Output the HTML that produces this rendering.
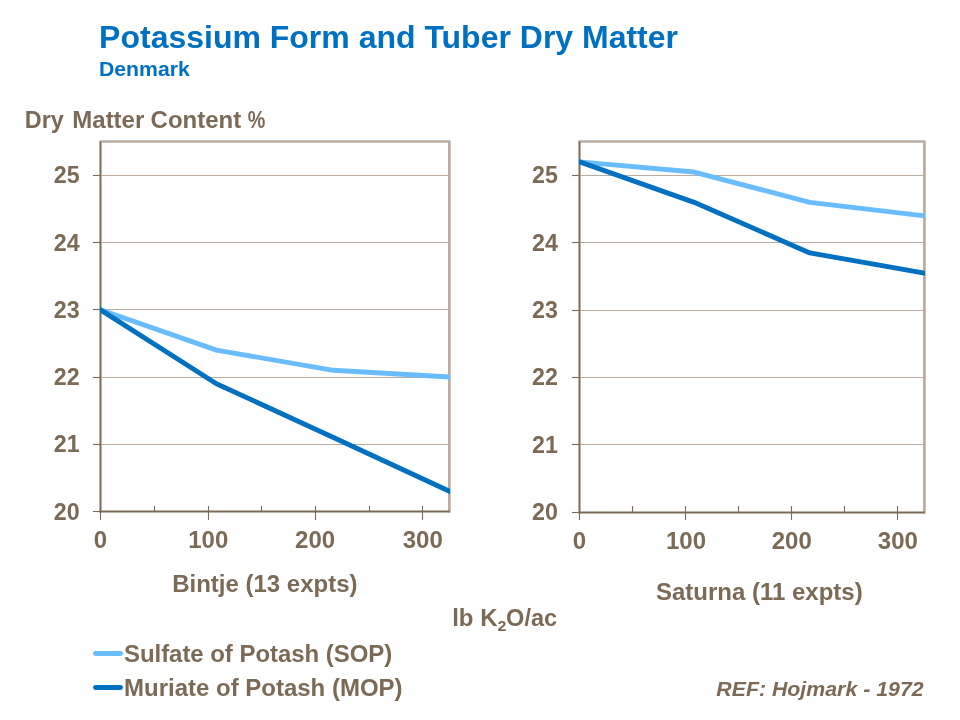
<!DOCTYPE html>
<html>
<head>
<meta charset="utf-8">
<title>Potassium Form and Tuber Dry Matter</title>
<style>
  html, body { margin: 0; padding: 0; background: #ffffff; }
  body { width: 960px; height: 720px; overflow: hidden; position: relative; }
  svg { position: absolute; left: 0; top: 0; display: block; will-change: transform; }
  text { font-family: "Liberation Sans", sans-serif; font-weight: bold; }
  .br { fill: #7b6a55; font-size: 24px; }
  .bl { fill: #0070c0; }
</style>
</head>
<body>
<svg width="960" height="720" viewBox="0 0 960 720">
  <rect x="0" y="0" width="960" height="720" fill="#ffffff"/>

  <!-- Titles -->
  <text class="bl" transform="translate(99.1,48.1) scale(1,0.975)" font-size="32">Potassium Form and Tuber Dry Matter</text>
  <text class="bl" transform="translate(98.9,75.6) scale(1,0.93)" x="0" y="0" font-size="21.25">Denmark</text>

  <!-- Y axis title -->
  <text class="br" transform="translate(24.8,127.9) scale(1,0.96)" textLength="39" lengthAdjust="spacingAndGlyphs">Dry</text>
  <text class="br" transform="translate(72.3,127.9) scale(1,0.96)" >Matter</text>
  <text class="br" transform="translate(150.6,127.9) scale(1,0.96)" >Content</text>
  <text class="br" transform="translate(247.8,127.9) scale(1,0.96)" textLength="17.6" lengthAdjust="spacingAndGlyphs">%</text>

  <!-- LEFT PLOT -->
  <g id="p1">
    <g stroke="#b9ada2" stroke-width="1">
      <line x1="101.5" x2="449.4" y1="175.5" y2="175.5"/>
      <line x1="101.5" x2="449.4" y1="242.5" y2="242.5"/>
      <line x1="101.5" x2="449.4" y1="309.5" y2="309.5"/>
      <line x1="101.5" x2="449.4" y1="377.5" y2="377.5"/>
      <line x1="101.5" x2="449.4" y1="444.5" y2="444.5"/>
    </g>
    <polyline points="100.5,141.5 449.4,141.5 449.4,511.45" fill="none" stroke="#b9ada2" stroke-width="2.7" stroke-linejoin="round" stroke-linecap="round"/>
    <g stroke="#7b6a55" stroke-width="1.1">
      <line x1="92.9" x2="100.0" y1="175.5" y2="175.5"/>
      <line x1="92.9" x2="100.0" y1="242.5" y2="242.5"/>
      <line x1="92.9" x2="100.0" y1="309.5" y2="309.5"/>
      <line x1="92.9" x2="100.0" y1="377.5" y2="377.5"/>
      <line x1="92.9" x2="100.0" y1="444.5" y2="444.5"/>
      <line x1="92.9" x2="100.0" y1="511.5" y2="511.5"/>
      <line x1="100.5" x2="100.5" y1="511.45" y2="520"/>
      <line x1="154.5" x2="154.5" y1="506" y2="511.45"/>
      <line x1="208.5" x2="208.5" y1="506" y2="520"/>
      <line x1="261.5" x2="261.5" y1="506" y2="511.45"/>
      <line x1="315.5" x2="315.5" y1="506" y2="520"/>
      <line x1="369.5" x2="369.5" y1="506" y2="511.45"/>
      <line x1="422.5" x2="422.5" y1="506" y2="520"/>
    </g>
    <line x1="100.5" x2="100.5" y1="141.70" y2="512.45" stroke="#7b6a55" stroke-width="2"/>
    <line x1="99.5" x2="449.6" y1="511.45" y2="511.45" stroke="#7b6a55" stroke-width="2"/>
    <clipPath id="cp1"><rect x="100.0" y="143" width="350.00" height="367.45"/></clipPath>
    <g clip-path="url(#cp1)" fill="none" stroke-width="4.9" stroke-linejoin="round">
      <polyline stroke="#69bdff" points="94.50,307.73 100.50,309.82 216.44,350.15 333.46,370.31 449.40,377.03 455.40,377.38"/>
      <polyline stroke="#0070c0" points="94.50,305.99 100.50,309.82 216.44,383.75 333.46,437.52 449.40,491.29 455.40,494.07"/>
    </g>
  </g>

  <!-- RIGHT PLOT -->
  <g id="p2">
    <g stroke="#b9ada2" stroke-width="1">
      <line x1="580.5" x2="924.4" y1="175.5" y2="175.5"/>
      <line x1="580.5" x2="924.4" y1="242.5" y2="242.5"/>
      <line x1="580.5" x2="924.4" y1="310.5" y2="310.5"/>
      <line x1="580.5" x2="924.4" y1="377.5" y2="377.5"/>
      <line x1="580.5" x2="924.4" y1="444.5" y2="444.5"/>
    </g>
    <polyline points="579.5,141.5 924.4,141.5 924.4,512.4" fill="none" stroke="#b9ada2" stroke-width="2.7" stroke-linejoin="round" stroke-linecap="round"/>
    <g stroke="#7b6a55" stroke-width="1.1">
      <line x1="571.9" x2="579.0" y1="175.5" y2="175.5"/>
      <line x1="571.9" x2="579.0" y1="242.5" y2="242.5"/>
      <line x1="571.9" x2="579.0" y1="310.5" y2="310.5"/>
      <line x1="571.9" x2="579.0" y1="377.5" y2="377.5"/>
      <line x1="571.9" x2="579.0" y1="444.5" y2="444.5"/>
      <line x1="571.9" x2="579.0" y1="512.5" y2="512.5"/>
      <line x1="579.5" x2="579.5" y1="512.4" y2="520"/>
      <line x1="632.5" x2="632.5" y1="506" y2="512.4"/>
      <line x1="685.5" x2="685.5" y1="506" y2="520"/>
      <line x1="738.5" x2="738.5" y1="506" y2="512.4"/>
      <line x1="791.5" x2="791.5" y1="506" y2="520"/>
      <line x1="844.5" x2="844.5" y1="506" y2="512.4"/>
      <line x1="897.5" x2="897.5" y1="506" y2="520"/>
    </g>
    <line x1="579.5" x2="579.5" y1="141.70" y2="513.40" stroke="#7b6a55" stroke-width="2"/>
    <line x1="578.5" x2="924.6" y1="512.4" y2="512.4" stroke="#7b6a55" stroke-width="2"/>
    <clipPath id="cp2"><rect x="579.0" y="143" width="346.00" height="368.40"/></clipPath>
    <g clip-path="url(#cp2)" fill="none" stroke-width="4.9" stroke-linejoin="round">
      <polyline stroke="#69bdff" points="573.50,161.39 579.50,161.92 694.11,172.03 809.79,202.36 924.40,215.84 930.40,216.55"/>
      <polyline stroke="#0070c0" points="573.50,159.80 579.50,161.92 694.11,202.36 809.79,252.91 924.40,273.13 930.40,274.19"/>
    </g>
  </g>

  <!-- Y tick labels -->
  <g class="br" text-anchor="end">
    <text class="br" transform="translate(79.7,183.1) scale(1,0.96)" textLength="25.9" lengthAdjust="spacingAndGlyphs">25</text>
    <text class="br" transform="translate(79.7,251.1) scale(1,0.96)" textLength="25.9" lengthAdjust="spacingAndGlyphs">24</text>
    <text class="br" transform="translate(79.7,318.1) scale(1,0.96)" textLength="25.9" lengthAdjust="spacingAndGlyphs">23</text>
    <text class="br" transform="translate(79.7,385.1) scale(1,0.96)" textLength="25.9" lengthAdjust="spacingAndGlyphs">22</text>
    <text class="br" transform="translate(79.7,452.1) scale(1,0.96)" textLength="25.9" lengthAdjust="spacingAndGlyphs">21</text>
    <text class="br" transform="translate(79.7,520.1) scale(1,0.96)" textLength="25.9" lengthAdjust="spacingAndGlyphs">20</text>
    <text class="br" transform="translate(557.9,183.1) scale(1,0.96)" textLength="25.9" lengthAdjust="spacingAndGlyphs">25</text>
    <text class="br" transform="translate(557.9,251.1) scale(1,0.96)" textLength="25.9" lengthAdjust="spacingAndGlyphs">24</text>
    <text class="br" transform="translate(557.9,318.1) scale(1,0.96)" textLength="25.9" lengthAdjust="spacingAndGlyphs">23</text>
    <text class="br" transform="translate(557.9,385.1) scale(1,0.96)" textLength="25.9" lengthAdjust="spacingAndGlyphs">22</text>
    <text class="br" transform="translate(557.9,453.1) scale(1,0.96)" textLength="25.9" lengthAdjust="spacingAndGlyphs">21</text>
    <text class="br" transform="translate(557.9,520.1) scale(1,0.96)" textLength="25.9" lengthAdjust="spacingAndGlyphs">20</text>
  </g>
  <!-- X tick labels -->
  <g class="br" text-anchor="middle">
    <text class="br" transform="translate(100.4,548.1) scale(1,0.96)" >0</text>
    <text class="br" transform="translate(208.3,548.1) scale(1,0.96)" >100</text>
    <text class="br" transform="translate(315.1,548.1) scale(1,0.96)" >200</text>
    <text class="br" transform="translate(422.8,548.1) scale(1,0.96)" >300</text>
    <text class="br" transform="translate(579.4,549.1) scale(1,0.96)" >0</text>
    <text class="br" transform="translate(686.0,549.1) scale(1,0.96)" >100</text>
    <text class="br" transform="translate(791.8,549.1) scale(1,0.96)" >200</text>
    <text class="br" transform="translate(897.85,549.1) scale(1,0.96)" >300</text>
  </g>

  <!-- Axis titles -->
  <text class="br" transform="translate(172.2,591.75) scale(1,0.96)" >Bintje (13 expts)</text>
  <text class="br" transform="translate(656,600) scale(1,0.96)" >Saturna (11 expts)</text>
  <text class="br" transform="translate(452.2,625.9) scale(1,0.96)">lb K<tspan font-size="16" dy="4.8">2</tspan><tspan dy="-4.8" dx="-0.3" textLength="51" lengthAdjust="spacingAndGlyphs">O/ac</tspan></text>

  <!-- Legend -->
  <line x1="95.5" x2="120.5" y1="653.5" y2="653.5" stroke="#69bdff" stroke-width="4.9" stroke-linecap="round"/>
  <line x1="95.5" x2="120.5" y1="687.5" y2="687.5" stroke="#0070c0" stroke-width="4.9" stroke-linecap="round"/>
  <text class="br" transform="translate(124,661.9) scale(1,0.96)" textLength="268.2" lengthAdjust="spacing">Sulfate of Potash (SOP)</text>
  <text class="br" transform="translate(124,695.9) scale(1,0.96)" >Muriate of Potash (MOP)</text>

  <!-- Reference -->
  <text transform="translate(716.3,695.6) scale(1,0.94)" x="0" y="0" font-size="21.33" font-style="italic" fill="#7b6a55">REF: Hojmark - 1972</text>
</svg>
</body>
</html>
